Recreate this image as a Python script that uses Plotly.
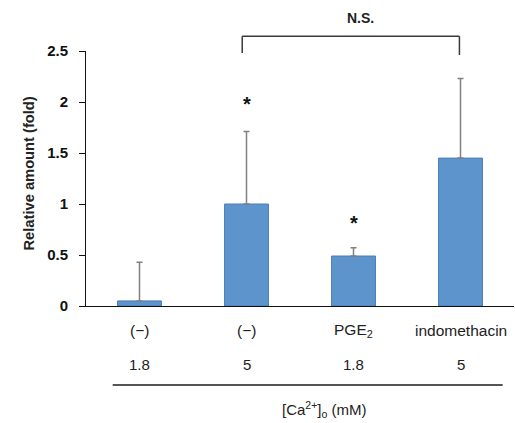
import plotly.graph_objects as go

categories = ["(−)", "(−)", "PGE<sub>2</sub>", "indomethacin"]
ca_conc = ["1.8", "5", "1.8", "5"]
values = [0.05, 1.0, 0.49, 1.45]
err_plus = [0.38, 0.71, 0.08, 0.78]
y_ticks = [0, 0.5, 1, 1.5, 2, 2.5]
y_tick_labels = ["0", "0.5", "1", "1.5", "2", "2.5"]
star_positions = [1, 2]
star_values = [2.02, 0.85]
bracket_from, bracket_to = 1, 3
bracket_top, bracket_bottom = 2.645, 2.48
ns_label = "N.S."
x_title = "[Ca<sup>2+</sup>]<sub>o</sub> (mM)"
y_title = "Relative amount (fold)"

W, H = 515, 423
L, R, T, B = 86, 1, 51, 117
pw = W - L - R
ph = H - T - B
YMAX = 2.5

def px_x(p):
    return (p - L) / pw

def px_y(p):
    return (H - B - p) / ph

xs = list(range(len(categories)))

fig = go.Figure()
fig.add_trace(go.Bar(
    x=xs, y=values, width=0.41,
    marker=dict(color="#5C94CB", line=dict(color="#4A7DB5", width=1)),
    error_y=dict(type="data", symmetric=False, array=err_plus,
                 arrayminus=[0] * len(values), color="#808080",
                 thickness=1.5, width=3),
    showlegend=False,
))

bx0 = bracket_from - 0.04
bx1 = bracket_to - 0.01
shapes = [
    dict(type="line", xref="paper", yref="paper",
         x0=px_x(112.7), x1=px_x(502.7), y0=px_y(385), y1=px_y(385),
         line=dict(color="#555", width=2)),
    dict(type="line", xref="x", yref="paper", x0=bx0, x1=bx1,
         y0=bracket_top / YMAX, y1=bracket_top / YMAX,
         line=dict(color="#3a3a3a", width=1.5)),
    dict(type="line", xref="x", yref="paper", x0=bx0, x1=bx0,
         y0=bracket_bottom / YMAX, y1=bracket_top / YMAX,
         line=dict(color="#3a3a3a", width=1.5)),
    dict(type="line", xref="x", yref="paper", x0=bx1, x1=bx1,
         y0=(bracket_bottom - 0.02) / YMAX, y1=bracket_top / YMAX,
         line=dict(color="#3a3a3a", width=1.5)),
]

annotations = []
for xi, yv in zip(star_positions, star_values):
    annotations.append(dict(x=xi, y=yv, xref="x", yref="y", text="<b>*</b>",
                            showarrow=False, font=dict(size=20, color="#111"),
                            yshift=-4))
annotations.append(dict(x=2.07, y=2.82 / YMAX, xref="x", yref="paper",
                        text="<b>" + ns_label + "</b>",
                        showarrow=False, font=dict(size=14, color="#222"),
                        yanchor="middle"))
for xi, (c, ca) in enumerate(zip(categories, ca_conc)):
    annotations.append(dict(x=xi, y=px_y(330), xref="x", yref="paper", text=c,
                            showarrow=False, yanchor="middle",
                            font=dict(size=15.5, color="#222")))
    annotations.append(dict(x=xi, y=px_y(364), xref="x", yref="paper", text=ca,
                            showarrow=False, yanchor="middle",
                            font=dict(size=15, color="#222")))
annotations.append(dict(x=px_x(324), y=px_y(410), xref="paper", yref="paper",
                        text=x_title, showarrow=False, yanchor="middle",
                        font=dict(size=15, color="#222")))
annotations.append(dict(x=0, y=px_y(173.5), xref="paper", yref="paper",
                        text="<b>" + y_title + "</b>", textangle=-90,
                        showarrow=False, xshift=-68,
                        font=dict(size=14.7, color="#222")))

fig.update_layout(
    width=W, height=H,
    margin=dict(l=L, r=R, t=T, b=B, pad=0),
    plot_bgcolor="white", paper_bgcolor="white",
    font=dict(family="Liberation Sans, Arial, sans-serif", color="#222"),
    annotations=annotations,
    shapes=shapes,
)
fig.update_xaxes(range=[-0.5, 3.5], showticklabels=False, ticks="",
                 showline=True, linecolor="#111", linewidth=1.3,
                 showgrid=False, zeroline=False)
fig.update_yaxes(range=[0, YMAX], tickvals=y_ticks,
                 ticktext=["<b>" + t + "</b>" for t in y_tick_labels],
                 ticks="outside", ticklen=6, tickcolor="#111",
                 ticklabelstandoff=8,
                 tickfont=dict(size=15, color="#111"),
                 showline=True, linecolor="#111", linewidth=1,
                 showgrid=False, zeroline=False)

fig.write_html("out.html", config={"displayModeBar": False},
               post_script="document.body.style.margin='0';"
                           "document.body.style.overflow='hidden';")
